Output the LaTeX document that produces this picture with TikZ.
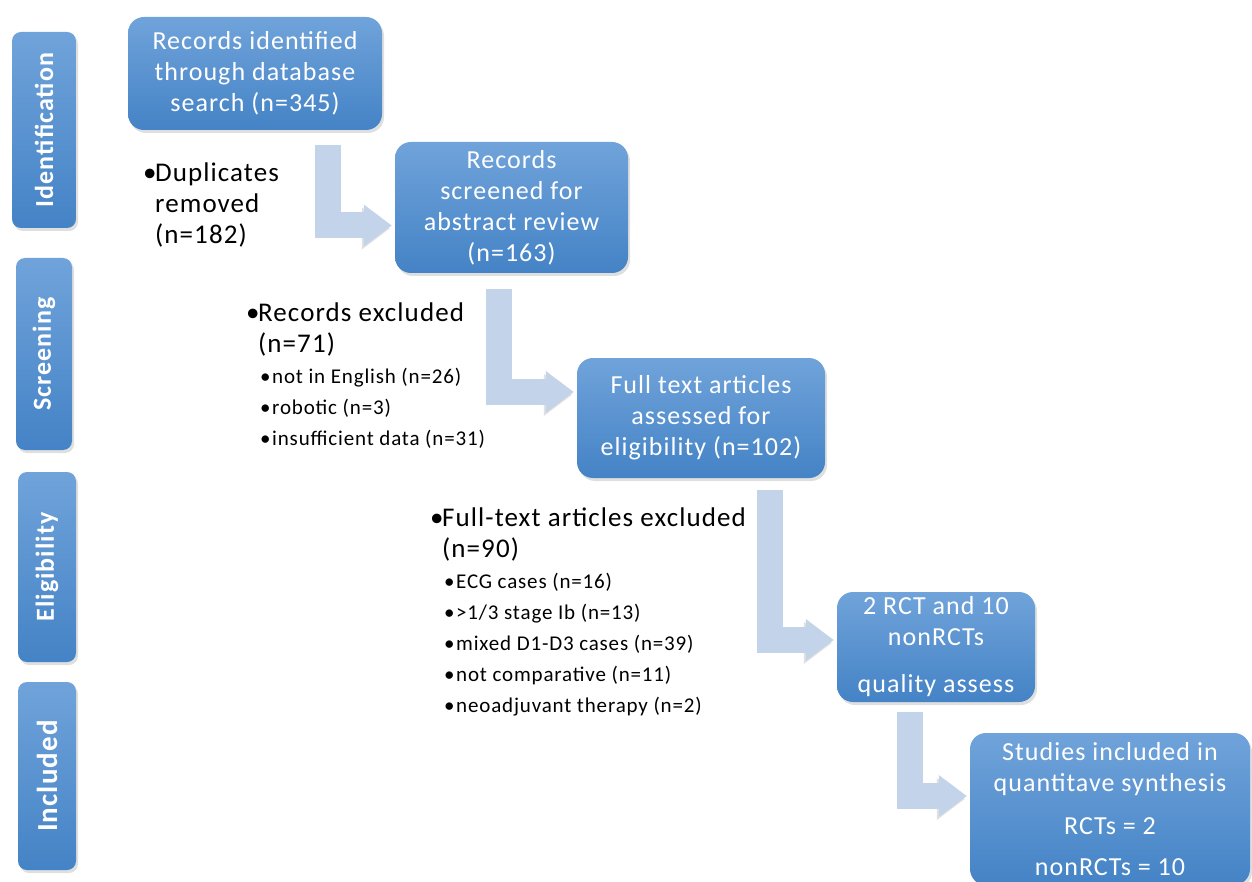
\documentclass[tikz,border=0pt]{standalone}
\usepackage{fontspec}
\setmainfont{Carlito}[LetterSpace=4]
\usetikzlibrary{positioning,shadows,arrows.meta}

\definecolor{boxtop}{RGB}{112,163,218}
\definecolor{boxbot}{RGB}{68,131,198}
\definecolor{flowblue}{RGB}{194,211,234}

\newcommand{\bul}{\makebox[12pt][l]{\textbullet}}
\newcommand{\ind}{\hspace*{12pt}}

\begin{document}
\begin{tikzpicture}[
    x=1pt, y=-1pt, % pixel units, origin top left
    bluebox/.style={rounded corners=16pt, top color=boxtop, bottom color=boxbot,
        text=white, align=center, inner sep=0pt,
        drop shadow={shadow xshift=2pt, shadow yshift=-3pt, opacity=0.25}},
    stepbox/.style={bluebox, font=\fontsize{26}{31}\selectfont},
    phase/.style={bluebox, rounded corners=9pt, font=\fontsize{26}{30}\selectfont\bfseries},
    bigtext/.style={inner sep=0pt, align=left, anchor=north west,
        font=\fontsize{27}{31}\selectfont},
    smalltext/.style={inner sep=0pt, align=left, anchor=north west,
        font=\fontsize{21}{31}\selectfont},
    flow/.style={draw=flowblue, line width=26pt, line join=miter,
        -{Triangle[length=28pt,width=40pt]}, shorten >=3pt,
        preaction={draw=black!12, transform canvas={shift={(-2pt,-3pt)}}}},
]
\path[use as bounding box, fill=white] (0,0) rectangle (1252,882);

% phases on the left
\node[phase, minimum width=64pt, minimum height=196pt] (ident) at (44,130)
    {\rotatebox{90}{Identification}};
\node[phase, minimum width=56pt, minimum height=192pt] (screen) at (44,354)
    {\rotatebox{90}{Screening}};
\node[phase, minimum width=58pt, minimum height=190pt] (elig) at (47,567)
    {\rotatebox{90}{Eligibility}};
\node[phase, minimum width=58pt, minimum height=188pt, font=\fontsize{29}{34}\selectfont\bfseries] (incl) at (47,776)
    {\rotatebox{90}{Included}};

% flow boxes
\node[stepbox, minimum width=254pt, minimum height=113pt] (recid) at (255,73.5)
    {Records identified\\ through database\\ search (n=345)};
\node[stepbox, minimum width=233pt, minimum height=131pt] (recscr) at (511.5,207.5)
    {Records\\ screened for\\ abstract review\\ (n=163)};
\node[stepbox, minimum width=248pt, minimum height=120pt] (fulltext) at (701,418)
    {Full text articles\\ assessed for\\ eligibility (n=102)};
\node[stepbox, minimum width=198pt, minimum height=110pt] (quality) at (936,647)
    {2 RCT and 10\\ nonRCTs\\[16pt] quality assess};
\node[stepbox, minimum width=280pt, minimum height=152pt] (studies) at (1110,809)
    {Studies included in\\ quantitave synthesis\\[12pt] RCTs = 2\\[10pt] nonRCTs = 10};

% exclusions
\node[bigtext] (dupl) at (143,163)
    {\bul Duplicates\\ \ind removed\\ \ind (n=182)};
\node[bigtext] (excl) at (246,303)
    {\bul Records excluded\\ \ind (n=71)};
\node[smalltext] (excllist) at ([xshift=14pt,yshift=-11pt]excl.south west)
    {\bul not in English (n=26)\\ \bul robotic (n=3)\\ \bul insufficient data (n=31)};
\node[bigtext] (ftexcl) at (430,508)
    {\bul Full-text articles excluded\\ \ind (n=90)};
\node[smalltext] (ftlist) at ([xshift=14pt,yshift=-11pt]ftexcl.south west)
    {\bul ECG cases (n=16)\\ \bul >1/3 stage Ib (n=13)\\ \bul mixed D1-D3 cases (n=39)\\
     \bul not comparative (n=11)\\ \bul neoadjuvant therapy (n=2)};

% bent arrows
\draw[flow] ([xshift=-54pt,yshift=-15pt]recid.south east) |- ([yshift=-18pt]recscr.west);
\draw[flow] ([xshift=-129pt,yshift=-16pt]recscr.south east) |- ([yshift=26pt]fulltext.west);
\draw[flow] ([xshift=-55pt,yshift=-12pt]fulltext.south east) |- ([yshift=7pt]quality.west);
\draw[flow] ([xshift=-125pt,yshift=-10pt]quality.south east) |- ([yshift=13pt]studies.west);
\end{tikzpicture}
\end{document}
